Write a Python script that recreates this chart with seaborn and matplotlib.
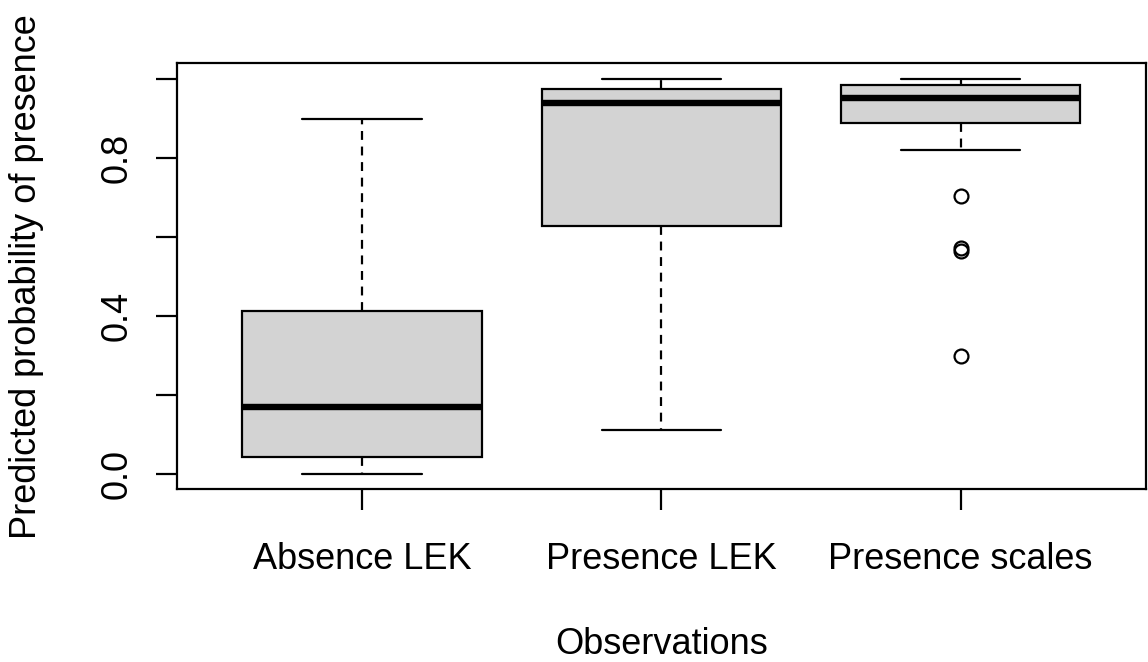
import pandas as pd
import seaborn as sns
import matplotlib.pyplot as plt

# groups on the x axis
groups = ["Absence LEK", "Presence LEK", "Presence scales"]

# predicted probabilities per group
absence_lek = [0.0, 0.01, 0.025, 0.043, 0.07, 0.11, 0.168, 0.21, 0.30, 0.411, 0.52, 0.71, 0.90]
presence_lek = [0.11, 0.35, 0.52, 0.627, 0.81, 0.90, 0.94, 0.95, 0.965, 0.975, 0.985, 0.993, 0.999]
presence_scales = [0.297, 0.565, 0.571, 0.703, 0.819, 0.86, 0.889, 0.90, 0.91, 0.92, 0.93, 0.945,
                   0.952, 0.96, 0.965, 0.97, 0.975, 0.98, 0.986, 0.99, 0.993, 0.995, 0.997, 0.998, 0.999]

yticks = [0.0, 0.2, 0.4, 0.6, 0.8, 1.0]
ytick_labels = ["0.0", "", "0.4", "", "0.8", ""]

df = pd.DataFrame({
    "obs": [groups[0]] * len(absence_lek) + [groups[1]] * len(presence_lek)
           + [groups[2]] * len(presence_scales),
    "prob": absence_lek + presence_lek + presence_scales,
})

sns.set_theme(style="ticks")
plt.rcParams["font.family"] = ["Liberation Sans", "DejaVu Sans"]
plt.rcParams["text.color"] = "black"
plt.rcParams["axes.labelcolor"] = "black"

fig = plt.figure(figsize=(11.48, 6.62), dpi=100)
ax = fig.add_axes([0.1539, 0.2609, 0.8444, 0.6435])

lw = 1.6
sns.boxplot(data=df, x="obs", y="prob", order=groups, color="#D3D3D3", saturation=1,
            linecolor="black", linewidth=lw, width=0.8, whis=1.5, fliersize=10,
            medianprops=dict(linewidth=4.6, solid_capstyle="butt"),
            whiskerprops=dict(linestyle=(0, (4, 3))),
            flierprops=dict(marker="o", markerfacecolor="none", markeredgecolor="black",
                            markeredgewidth=lw),
            ax=ax)

ax.set_xlim(-0.62, 2.62)
ax.set_ylim(-0.04, 1.04)
ax.set_yticks(yticks)
ax.set_yticklabels(ytick_labels, rotation=90, va="center")

for s in ax.spines.values():
    s.set_visible(True)
    s.set_color("black")
    s.set_linewidth(lw)

ax.tick_params(axis="both", direction="out", length=15, width=lw, color="black",
               labelsize=26, labelcolor="black")
ax.tick_params(axis="x", pad=23)
ax.tick_params(axis="y", pad=15)

ax.set_xlabel("Observations", fontsize=26, labelpad=36)
ax.set_ylabel("Predicted probability of presence", fontsize=26, labelpad=40)

fig.savefig("out.png", dpi=100)
